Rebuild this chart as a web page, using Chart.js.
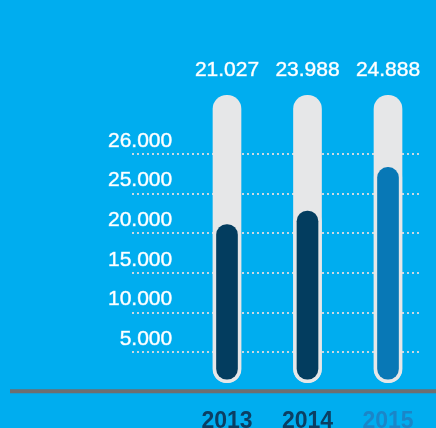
<!DOCTYPE html>
<html>
<head>
<meta charset="utf-8">
<script src="https://cdn.jsdelivr.net/npm/chart.js@4"></script>
<style>
  html, body { margin: 0; padding: 0; background: #00adef; }
  canvas { display: block; }
</style>
</head>
<body>
<canvas id="chart" width="436" height="428"></canvas>
<script>
// Năm / giá trị hiển thị / mức cột đọc trên trục
const years = ['2013', '2014', '2015'];
const totals = [21027, 23988, 24888];
const fillLevels = [21550, 23250, 28750];
const capsuleTop = [37400, 37400, 37400];
const tickValues = [5000, 10000, 15000, 20000, 25000, 30000];
const tickLabels = ['5.000', '10.000', '15.000', '20.000', '25.000', '26.000'];

const fillColors = ['#033d5f', '#033d5f', '#0878b6'];
const yearColors = ['#0b3f63', '#0b3f63', '#1a86c8'];
const capsuleColor = '#e6e7e8';
const trackBase = 1170;

// Vạch xám dưới cùng + số liệu phía trên cột
const decorPlugin = {
    id: 'decor',
    beforeDatasetsDraw(chart) {
        const ctx = chart.ctx;
        const y = chart.scales.y.getPixelForValue(0) - 0.7;
        ctx.save();
        ctx.strokeStyle = '#6d6e71';
        ctx.lineWidth = 4;
        ctx.beginPath();
        ctx.moveTo(10, y);
        ctx.lineTo(chart.width, y);
        ctx.stroke();
        ctx.restore();
    },
    afterDraw(chart) {
        const ctx = chart.ctx;
        const meta = chart.getDatasetMeta(1);
        ctx.save();
        ctx.fillStyle = '#ffffff';
        ctx.strokeStyle = 'rgba(255,255,255,0.7)';
        ctx.lineWidth = 0.6;
        ctx.font = '21px "Liberation Sans", Arial, sans-serif';
        ctx.textAlign = 'center';
        ctx.textBaseline = 'middle';
        meta.data.forEach((el, i) => {
            const txt = (totals[i] / 1000).toFixed(3);
            ctx.fillText(txt, el.x, el.y - 25);
            ctx.strokeText(txt, el.x, el.y - 25);
        });
        ctx.restore();
    }
};

new Chart(document.getElementById('chart').getContext('2d'), {
    type: 'bar',
    data: {
        labels: years,
        datasets: [
            {
                label: 'fill',
                data: fillLevels,
                base: trackBase,
                grouped: false,
                order: 1,
                barThickness: 28,
                backgroundColor: fillColors,
                borderColor: capsuleColor,
                borderWidth: 3.5,
                borderSkipped: false,
                borderRadius: 14
            },
            {
                label: 'capsule',
                data: capsuleTop,
                base: trackBase,
                grouped: false,
                order: 2,
                barThickness: 28,
                backgroundColor: capsuleColor,
                borderWidth: 0,
                borderSkipped: false,
                borderRadius: 14
            }
        ]
    },
    options: {
        responsive: false,
        animation: false,
        devicePixelRatio: 1,
        layout: { padding: { top: 35, left: 132, right: 17, bottom: 0 } },
        plugins: {
            legend: { display: false },
            tooltip: { enabled: false }
        },
        scales: {
            x: {
                type: 'linear',
                offset: false,
                min: 2011.82,
                max: 2015.385,
                afterBuildTicks: s => { s.ticks = years.map(v => ({ value: +v })); },
                afterFit: s => { s.height = 36; },
                grid: { display: false, offset: false },
                border: { display: false },
                ticks: {
                    padding: 8,
                    font: { family: '"Liberation Sans", Arial, sans-serif', size: 23, weight: 'bold' },
                    color: c => yearColors[c.index],
                    callback: v => String(v)
                }
            },
            y: {
                min: 0,
                max: 45000,
                z: 1,
                afterBuildTicks: s => { s.ticks = tickValues.map(v => ({ value: v })); },
                afterFit: s => { s.width = 0; },
                border: { display: false, dash: [2, 3] },
                grid: {
                    color: '#c9d8e2',
                    lineWidth: 2,
                    drawTicks: false
                },
                ticks: {
                    mirror: true,
                    crossAlign: 'far',
                    padding: -24,
                    labelOffset: -13,
                    color: '#ffffff',
                    textStrokeColor: 'rgba(255,255,255,0.7)',
                    textStrokeWidth: 0.6,
                    font: { family: '"Liberation Sans", Arial, sans-serif', size: 21 },
                    callback: (v, i) => tickLabels[i]
                }
            }
        }
    },
    plugins: [decorPlugin]
});
</script>
</body>
</html>
